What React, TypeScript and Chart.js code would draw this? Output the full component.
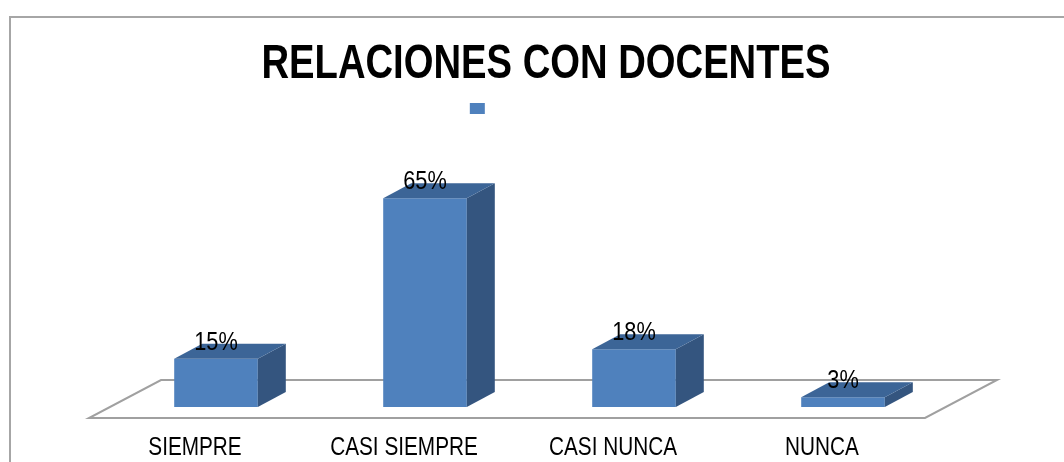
import React, { useEffect, useRef } from 'react';
import { Chart, registerables } from 'chart.js';

Chart.register(...registerables);

const chartTitle = 'RELACIONES CON DOCENTES';
const categories = ['SIEMPRE', 'CASI SIEMPRE', 'CASI NUNCA', 'NUNCA'];
const values = [15, 65, 18, 3];
const valueLabels = ['15%', '65%', '18%', '3%'];
// Series name is blank in the original; spaces reserve the legend text room
const seriesName = ' '.repeat(40);

const FONT = "'Liberation Sans', Arial, sans-serif";
// The original uses a narrow face (Arial Narrow); emulate it by condensing horizontally
const NARROW = 0.83;
const FRONT = '#4F81BD';
const SIDE = '#34557F';
const TOPC = '#3C6597';
const DX = 28;
const DY = 15;

function narrowText(ctx: CanvasRenderingContext2D, text: string, x: number, y: number, sx: number) {
  ctx.save();
  ctx.translate(x, y);
  ctx.scale(sx, 1);
  ctx.fillText(text, 0, 0);
  ctx.restore();
}

const threeD = {
  id: 'threeD',
  beforeDatasetsDraw(chart: any) {
    const { ctx, chartArea } = chart;
    const base = chart.scales.y.getPixelForValue(0);
    const l = chartArea.left;
    const r = chartArea.right;
    ctx.save();
    ctx.beginPath();
    ctx.moveTo(l - 22.5, base + 11);
    ctx.lineTo(r - 22.5, base + 11);
    ctx.lineTo(r + 49.5, base - 27);
    ctx.lineTo(l + 49.5, base - 27);
    ctx.closePath();
    ctx.fillStyle = '#ffffff';
    ctx.fill();
    ctx.strokeStyle = '#A0A0A0';
    ctx.lineWidth = 2;
    ctx.stroke();
    ctx.restore();
  },
  afterDatasetsDraw(chart: any) {
    const { ctx } = chart;
    const meta = chart.getDatasetMeta(0);
    ctx.save();
    meta.data.forEach((bar: any) => {
      const { x, y, base, width } = bar.getProps(['x', 'y', 'base', 'width'], true);
      const xl = x - width / 2;
      const xr = x + width / 2;
      ctx.beginPath();
      ctx.moveTo(xr, y);
      ctx.lineTo(xr + DX, y - DY);
      ctx.lineTo(xr + DX, base - DY);
      ctx.lineTo(xr, base);
      ctx.closePath();
      ctx.fillStyle = SIDE;
      ctx.fill();
      ctx.beginPath();
      ctx.moveTo(xl, y);
      ctx.lineTo(xl + DX, y - DY);
      ctx.lineTo(xr + DX, y - DY);
      ctx.lineTo(xr, y);
      ctx.closePath();
      ctx.fillStyle = TOPC;
      ctx.fill();
    });
    ctx.fillStyle = '#000';
    ctx.font = `25px ${FONT}`;
    ctx.textAlign = 'center';
    ctx.textBaseline = 'alphabetic';
    meta.data.forEach((bar: any, i: number) => {
      const { x, y } = bar.getProps(['x', 'y'], true);
      narrowText(ctx, valueLabels[i], x, y - 9, 0.87);
    });
    ctx.restore();
  },
  afterDraw(chart: any) {
    const { ctx, width } = chart;
    const xs = chart.scales.x;
    const base = chart.scales.y.getPixelForValue(0);
    ctx.save();
    ctx.fillStyle = '#000';
    ctx.textAlign = 'center';
    ctx.textBaseline = 'alphabetic';
    // title
    ctx.font = `bold 49px ${FONT}`;
    narrowText(ctx, chartTitle, width / 2 - 1, 60, 0.78);
    // category labels (placed at the front edge of the floor)
    ctx.font = `25px ${FONT}`;
    categories.forEach((c, i) => {
      narrowText(ctx, c, xs.getPixelForTick(i) - 21, base + 48, NARROW);
    });
    ctx.restore();
  },
};

export default function App() {
  const ref = useRef<HTMLCanvasElement>(null);
  useEffect(() => {
    if (!ref.current) return;
    const chart = new Chart(ref.current, {
      type: 'bar',
      data: {
        labels: categories,
        datasets: [
          {
            label: seriesName,
            data: values,
            backgroundColor: FRONT,
            borderWidth: 0,
            categoryPercentage: 0.4,
            barPercentage: 1,
          },
        ],
      },
      options: {
        animation: false,
        responsive: false,
        layout: { padding: { top: 74.4, bottom: 55, left: 0, right: 0 } },
        plugins: {
          title: { display: false },
          legend: {
            display: true,
            position: 'top',
            labels: {
              boxWidth: 15,
              boxHeight: 11,
              padding: 10,
              color: '#000',
              font: { family: 'Liberation Sans', size: 12 },
            },
          },
          tooltip: { enabled: false },
        },
        scales: {
          x: {
            grid: { display: false, drawTicks: false },
            border: { display: false },
            ticks: { display: false },
          },
          y: {
            min: 0,
            max: 88,
            grid: { display: false, drawTicks: false },
            border: { display: false },
            ticks: { display: false },
            afterFit: (s: any) => {
              s.width = 100.5;
            },
          },
          yR: {
            position: 'right',
            grid: { display: false, drawTicks: false },
            border: { display: false },
            ticks: { display: false },
            afterFit: (s: any) => {
              s.width = 135.5;
            },
          },
        },
      } as any,
      plugins: [threeD],
    });
    return () => chart.destroy();
  }, []);

  return (
    <div
      style={{
        position: 'fixed',
        left: 0,
        top: 0,
        width: 1064,
        height: 462,
        overflow: 'hidden',
        background: '#fff',
      }}
    >
      <div
        style={{
          position: 'absolute',
          left: 9,
          top: 16,
          width: 1072,
          height: 460,
          border: '2px solid #A6A6A6',
        }}
      >
        <canvas ref={ref} width={1072} height={444} style={{ display: 'block', width: 1072, height: 444 }} />
      </div>
    </div>
  );
}
